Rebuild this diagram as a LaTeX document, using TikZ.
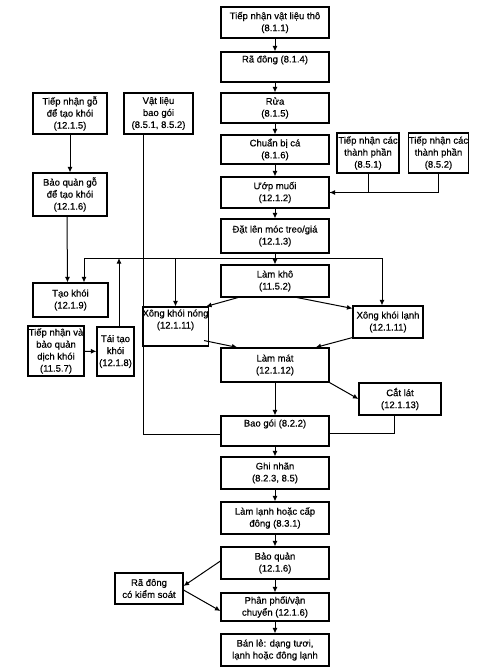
\documentclass[tikz,border=0pt]{standalone}
\usepackage{fontspec}
\setmainfont{Liberation Sans}
\newfontfamily\diagfont[FakeBold=0.4]{Liberation Sans}
\usetikzlibrary{arrows.meta}

\begin{document}
\begin{tikzpicture}[x=1pt,y=-1pt,
    box/.style={draw,line width=1.1pt,align=center,inner sep=0pt,font=\diagfont\fontsize{9.5}{12}\selectfont},
    mainbox/.style={box,minimum width=108pt},
    arr/.style={-{Latex[length=5.5pt,width=5pt]},line width=1pt},
    ln/.style={line width=1pt}]
    \useasboundingbox (0,0) rectangle (493,670);

    % Main column
    \node[mainbox,minimum height=31pt] (tho) at (275,22.5) {Tiếp nhận vật liệu thô\\(8.1.1)};
    \node[mainbox,minimum height=30pt] (radong) at (275,67) {Rã đông (8.1.4)\\[4pt]};
    \node[mainbox,minimum height=30pt] (rua) at (275,108) {Rửa\\(8.1.5)};
    \node[mainbox,minimum height=29pt] (chuanbi) at (275,149.5) {Chuẩn bị cá\\(8.1.6)};
    \node[mainbox,minimum height=31pt] (uop) at (275,192.5) {Ướp muối\\(12.1.2)};
    \node[mainbox,minimum height=34pt] (dat) at (275,236) {Đặt lên móc treo/giá\\(12.1.3)};
    \node[mainbox,minimum height=32pt] (lamkho) at (275,281) {Làm khô\\(11.5.2)};
    \node[mainbox,minimum height=34pt] (lammat) at (275,365) {Làm mát\\(12.1.12)};
    \node[mainbox,minimum height=30pt] (baogoi) at (275,431) {Bao gói (8.2.2)\\[4pt]};
    \node[mainbox,minimum height=32pt] (ghinhan) at (275,473) {Ghi nhãn\\(8.2.3, 8.5)};
    \node[mainbox,minimum height=32pt] (lamlanh) at (275,518) {Làm lạnh hoặc cấp\\đông (8.3.1)};
    \node[mainbox,minimum height=32pt] (baoquan) at (275,563) {Bảo quản\\(12.1.6)};
    \node[mainbox,minimum height=28pt] (phanphoi) at (275,607) {Phân phối/vận\\chuyển (12.1.6)};
    \node[mainbox,minimum height=32pt] (banle) at (275,650) {Bán lẻ: dạng tươi,\\lạnh hoặc đông lạnh};

    % Ingredients
    \node[box,minimum width=62pt,minimum height=40pt] (tpA) at (368,153) {Tiếp nhận các\\thành phần\\(8.5.1)};
    \node[box,minimum width=59pt,minimum height=40pt] (tpB) at (438.5,153) {Tiếp nhận các\\thành phần\\(8.5.2)};

    % Wood and smoke
    \node[box,minimum width=74pt,minimum height=41pt] (gonhan) at (70,113.5) {Tiếp nhận gỗ\\để tạo khói\\(12.1.5)};
    \node[box,minimum width=74pt,minimum height=43pt] (gobaoquan) at (70,194.5) {Bảo quản gỗ\\để tạo khói\\(12.1.6)};
    \node[box,minimum width=75pt,minimum height=34pt] (taokhoi) at (70.5,300) {Tạo khói\\(12.1.9)};
    \node[box,minimum width=56pt,minimum height=50pt] (dichkhoi) at (56,351) {Tiếp nhận và\\bảo quản\\dịch khói\\(11.5.7)};
    \node[box,minimum width=37pt,minimum height=49pt] (taitao) at (115.5,351.5) {Tái tạo\\khói\\(12.1.8)};

    % Packaging material
    \node[box,minimum width=69pt,minimum height=41pt] (vatlieu) at (158.5,113.5) {Vật liệu\\bao gói\\(8.5.1, 8.5.2)};

    % Smoking
    \node[box,minimum width=59pt,minimum height=39pt] (nong) at (175.5,326.5) {Xông khói nóng\\(12.1.11)\\[3pt]};
    \node[box,minimum width=70pt,minimum height=32pt] (lanh) at (388,322) {Xông khói lạnh\\(12.1.11)};
    \node[box,minimum width=82pt,minimum height=32pt] (catlat) at (400,399) {Cắt lát\\(12.1.13)};

    % Thawing
    \node[box,minimum width=68pt,minimum height=31pt] (radongks) at (149,588.5) {Rã đông\\có kiểm soát};

    % Main flow
    \draw[arr] (tho) -- (radong);
    \draw[arr] (radong) -- (rua);
    \draw[arr] (rua) -- (chuanbi);
    \draw[arr] (chuanbi) -- (uop);
    \draw[arr] (uop) -- (dat);
    \draw[arr] (dat) -- (lamkho);
    \draw[arr] (lammat) -- (baogoi);
    \draw[arr] (baogoi) -- (ghinhan);
    \draw[arr] (ghinhan) -- (lamlanh);
    \draw[arr] (lamlanh) -- (baoquan);
    \draw[arr] (baoquan) -- (phanphoi);
    \draw[arr] (phanphoi) -- (banle);

    % Ingredients into salting
    \draw[ln] (tpA.south) |- (uop.east);
    \draw[arr] (tpB.south) |- (uop.east);

    % Hanging line
    \coordinate (busL) at (84,258);
    \coordinate (busR) at (382,258);
    \draw[ln] (busL) -- (busR);
    \draw[arr] (busL) -- (busL |- taokhoi.north);
    \draw[arr] (busR) -- (busR |- lanh.north);
    \draw[arr] (nong.north |- busL) -- (nong.north);
    \draw[arr] ([xshift=3.5pt]taitao.north) -- ([xshift=3.5pt]taitao.north |- busL);

    % Wood
    \draw[arr] (gonhan) -- (gobaoquan);
    \draw[arr] ([xshift=-3pt]gobaoquan.south) -- ([xshift=-3pt]taokhoi.north);
    \draw[arr] (dichkhoi) -- (taitao);

    % Drying and smoking
    \draw[arr] ([xshift=-37pt]lamkho.south) -- ([xshift=-3pt]nong.north east);
    \draw[arr] ([xshift=22pt]lamkho.south) -- ([yshift=-3pt]lanh.north west);
    \draw[arr] ([xshift=-5pt,yshift=6pt]nong.south east) -- ([xshift=17pt]lammat.north west);
    \draw[arr] ([yshift=1pt]lanh.south west) -- ([xshift=-14pt]lammat.north east);
    \draw[arr] (lammat.south east) -- (catlat.west);

    % Into packaging
    \draw[ln] ([xshift=-6pt]catlat.south) |- ([yshift=-2pt]baogoi.east);
    \draw[ln] ([xshift=-15.5pt]vatlieu.south) |- ([yshift=-3pt]baogoi.west);

    % Controlled thawing
    \draw[arr] ([yshift=2pt]baoquan.west) -- ([yshift=2.5pt]radongks.east);
    \draw[arr] ([yshift=-1.5pt]radongks.east) -- ([yshift=-4pt]phanphoi.west);
\end{tikzpicture}
\end{document}
